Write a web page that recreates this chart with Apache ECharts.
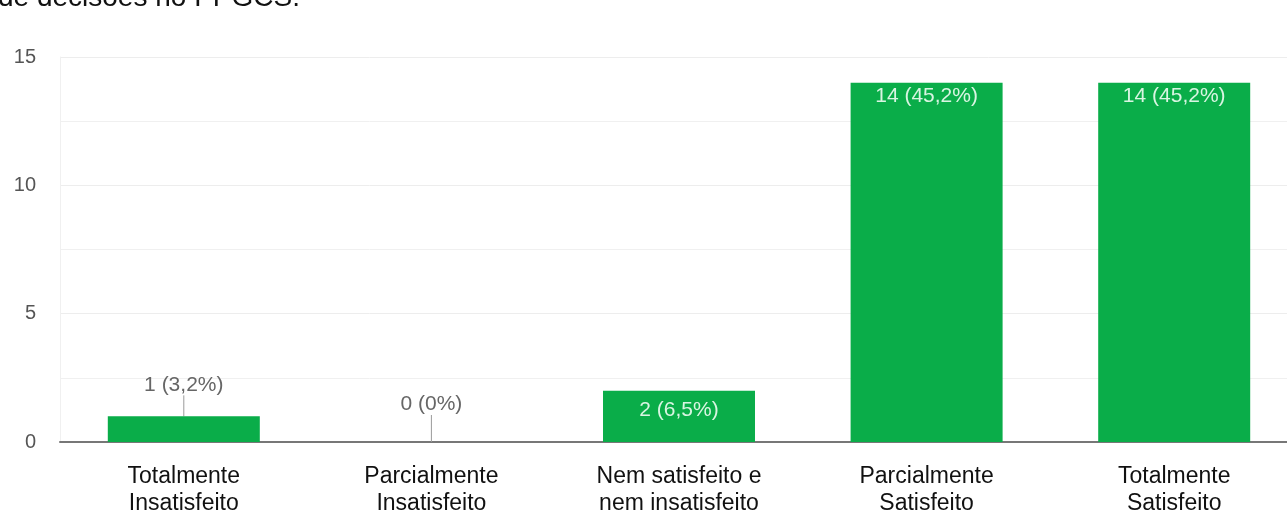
<!DOCTYPE html>
<html>
<head>
<meta charset="utf-8">
<script src="https://cdn.jsdelivr.net/npm/echarts@6/dist/echarts.min.js"></script>
<style>
  html, body { margin: 0; padding: 0; background: #ffffff; overflow: hidden; }
  /* the chart runs a little past the right edge of the window */
  #chart { width: 1298px; height: 527px; }
</style>
</head>
<body>
<div id="chart"></div>
<script>
// Satisfaction survey responses: count and share per answer
const categories = [
  'Totalmente\nInsatisfeito',
  'Parcialmente\nInsatisfeito',
  'Nem satisfeito e\nnem insatisfeito',
  'Parcialmente\nSatisfeito',
  'Totalmente\nSatisfeito'
];
const counts = [1, 0, 2, 14, 14];
const shares = ['3,2%', '0%', '6,5%', '45,2%', '45,2%'];
const yTicks = [0, 5, 10, 15];

const barGreen = '#0aad49';
// Bars too short to hold their label get it above, joined by a guide line
const outsideMin = 2;
const liftBy = { 1: -16, 0: -22 };

const chart = echarts.init(document.getElementById('chart'), null, { renderer: 'canvas' });

const data = counts.map(function (v, i) {
  const inside = v >= outsideMin;
  return {
    value: v,
    label: inside
      ? { position: 'insideTop', distance: v < 5 ? 9 : 3, color: '#d9f5e2' }
      : { position: 'top', distance: 5, color: '#666666' },
    labelLine: { show: !inside, lineStyle: { color: '#9a9a9a', width: 1 } }
  };
});

chart.setOption({
  backgroundColor: '#ffffff',
  animation: false,
  graphic: [{
    type: 'text',
    left: -2,
    top: -16,
    style: {
      text: 'de decisões no PPGCS.',
      fill: '#111111',
      font: '28px "Liberation Sans", Arial, sans-serif'
    }
  }],
  grid: { left: 60, right: 0, top: 57, bottom: 85, containLabel: false },
  xAxis: {
    type: 'category',
    data: categories,
    axisLine: { show: true, lineStyle: { color: '#777777', width: 2 } },
    axisTick: { show: false },
    axisLabel: {
      interval: 0,
      margin: 21,
      color: '#111111',
      fontFamily: '"Liberation Sans", Arial, sans-serif',
      fontSize: 23,
      lineHeight: 27
    },
    splitLine: { show: false }
  },
  yAxis: {
    type: 'value',
    min: 0,
    max: 15,
    interval: 5,
    axisLine: { show: true, lineStyle: { color: '#f0f0f0', width: 1 } },
    axisTick: { show: false },
    axisLabel: {
      margin: 24,
      color: '#555555',
      fontFamily: '"Liberation Sans", Arial, sans-serif',
      fontSize: 20,
      formatter: function (v) { return yTicks.indexOf(v) >= 0 ? String(v) : ''; }
    },
    splitLine: { show: true, lineStyle: { color: '#ededed', width: 1 } },
    minorTick: { show: false, splitNumber: 2 },
    minorSplitLine: { show: true, lineStyle: { color: '#f0f0f0', width: 1 } }
  },
  series: [{
    type: 'bar',
    data: data,
    barWidth: 152,
    itemStyle: { color: barGreen },
    label: {
      show: true,
      fontFamily: '"Liberation Sans", Arial, sans-serif',
      fontSize: 21,
      formatter: function (p) { return counts[p.dataIndex] + ' (' + shares[p.dataIndex] + ')'; }
    },
    labelLayout: function (p) {
      const v = counts[p.dataIndex];
      return v < outsideMin ? { dy: liftBy[v] } : {};
    },
    labelLine: { show: false }
  }]
});
</script>
</body>
</html>
